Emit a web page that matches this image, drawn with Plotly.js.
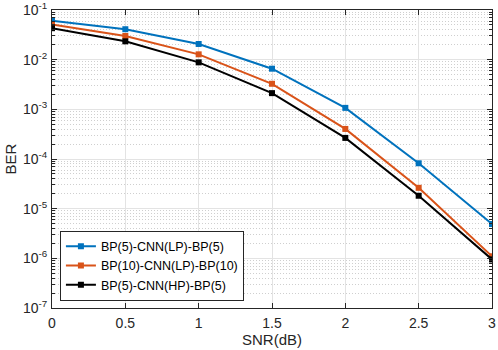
<!DOCTYPE html>
<html>
<head>
<meta charset="utf-8">
<script src="https://cdn.plot.ly/plotly-3.0.1.min.js"></script>
<style>
html,body{margin:0;padding:0;background:#fff;}
#plot{width:498px;height:350px;}
</style>
</head>
<body>
<div id="plot"></div>
<script>
var snr = [0, 0.5, 1, 1.5, 2, 2.5, 3]
var berLp5 = [0.0605, 0.041, 0.0207, 0.00658, 0.00107, 8.2e-5, 4.9e-6]
var berLp10 = [0.051, 0.030, 0.0128, 0.00327, 4.03e-4, 2.63e-5, 1.1e-6]
var berHp5 = [0.043, 0.0234, 0.00883, 0.00212, 2.66e-4, 1.82e-5, 9.5e-7]
var names = ["BP(5)-CNN(LP)-BP(5)", "BP(10)-CNN(LP)-BP(10)", "BP(5)-CNN(HP)-BP(5)"]
var colors = ["#0072BD", "#D95319", "#000000"]
var yTicks = [1e-7, 1e-6, 1e-5, 1e-4, 1e-3, 1e-2, 1e-1]
var yTickText = ["10<sup>-7</sup>", "10<sup>-6</sup>", "10<sup>-5</sup>", "10<sup>-4</sup>",
                 "10<sup>-3</sup>", "10<sup>-2</sup>", "10<sup>-1</sup>"]

var series = [berLp5, berLp10, berHp5]
var data = series.map(function(ys, i) {
    return {
        x: snr,
        y: ys,
        name: names[i],
        type: "scatter",
        mode: "lines+markers",
        line: {color: colors[i], width: 2},
        marker: {color: colors[i], symbol: "square", size: 6}
    }
})

var axisCommon = {
    showline: true,
    linecolor: "#262626",
    linewidth: 1,
    mirror: "allticks",
    ticks: "inside",
    ticklen: 5,
    tickcolor: "#262626",
    gridcolor: "#e3e3e3",
    zeroline: false,
    tickfont: {size: 14, color: "#262626"}
}

var layout = {
    width: 498,
    height: 350,
    margin: {l: 52, r: 6, t: 10, b: 42},
    paper_bgcolor: "#fff",
    plot_bgcolor: "#fff",
    font: {family: "Liberation Sans, Arial, sans-serif", color: "#262626"},
    showlegend: true,
    xaxis: Object.assign({}, axisCommon, {
        range: [0, 3],
        dtick: 0.5,
        ticklabelstandoff: 2,
        title: {text: "SNR(dB)", font: {size: 15}, standoff: 3}
    }),
    yaxis: Object.assign({}, axisCommon, {
        type: "log",
        range: [-7, -1],
        tickmode: "array",
        tickvals: yTicks,
        ticktext: yTickText,
        ticklabelstandoff: 1,
        title: {text: "BER", font: {size: 15}, standoff: 2},
        minor: {dtick: "D1", showgrid: true, griddash: "1px,2px", gridcolor: "#cfcfcf", ticks: "inside", ticklen: 3, tickcolor: "#262626"}
    }),
    legend: {
        x: 0.018, y: 0.025,
        xanchor: "left", yanchor: "bottom",
        bgcolor: "#fff",
        bordercolor: "#262626",
        borderwidth: 1,
        font: {size: 12.5, color: "#000"},
        tracegroupgap: 0,
        itemwidth: 30
    }
}

Plotly.newPlot("plot", data, layout, {staticPlot: true})
</script>
</body>
</html>
